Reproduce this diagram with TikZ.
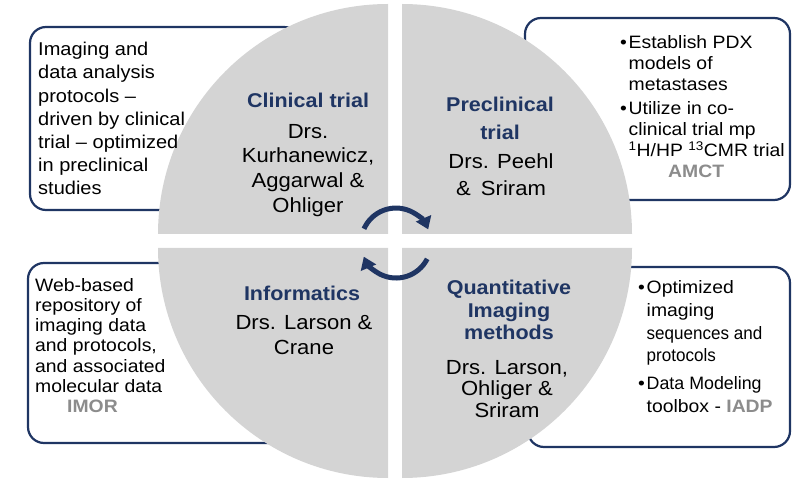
\documentclass[tikz,border=0pt]{standalone}
\usepackage{fontspec}
\setmainfont{Liberation Sans}[FakeStretch=1.08]
\usepackage{graphicx}
\usetikzlibrary{arrows.meta}
\definecolor{navy}{HTML}{1F3563}
\definecolor{quadgray}{HTML}{D4D4D4}
\definecolor{labgray}{HTML}{8C8C8C}
\newcommand\mybul{\makebox[8.5bp][l]{\textbullet}}
\newcommand\myind{\hspace*{8.5bp}}
\begin{document}
\begin{tikzpicture}[x=1bp,y=-1bp,
  cbox/.style={draw=navy,line width=2.2bp,rounded corners=16bp,fill=white},
  quad/.style={fill=quadgray},
  ttl/.style={anchor=north,inner sep=0,align=center,text=navy,font=\fontsize{20}{22.5}\selectfont\bfseries},
  drs/.style={anchor=north,inner sep=0,align=center,font=\fontsize{20.5}{24.7}\selectfont},
  btxt/.style={anchor=north west,inner sep=0,align=left,font=\fontsize{18}{23.3}\selectfont},
  cyc/.style={draw=navy,line width=5bp,-{Triangle[length=12bp,width=16bp]}},
]
\useasboundingbox (0,0) rectangle (800,482);
% side boxes
\draw[cbox] (30,27) rectangle (300,210);
\draw[cbox] (28,263) rectangle (300,443);
\draw[cbox] (525,18) rectangle (790,200);
\draw[cbox] (528,267) rectangle (790,447);
% quadrants
\fill[quad] (388,234) -- (158,234) arc[start angle=180,end angle=270,radius=230] -- cycle;
\fill[quad] (402,234) -- (402,4) arc[start angle=270,end angle=360,radius=230] -- cycle;
\fill[quad] (402,248) -- (632,248) arc[start angle=0,end angle=90,radius=230] -- cycle;
\fill[quad] (388,248) -- (388,478) arc[start angle=90,end angle=180,radius=230] -- cycle;
% box texts
\node[btxt,font=\fontsize{18.6}{23.3}\selectfont] (tl) at (38,42) {Imaging and\\ data analysis\\ protocols –\\ driven by clinical\\ trial – optimized\\ in preclinical\\ studies};
\node[btxt,font=\fontsize{18}{20.3}\selectfont] (bl) at (35,278) {Web-based\\ repository of\\ imaging data\\ and protocols,\\ and associated\\ molecular data\\ \hspace*{32bp}{\bfseries\color{labgray}IMOR}};
\node[btxt,font=\fontsize{18}{21}\selectfont] (tr) at (620,35) {\mybul Establish PDX\\ \myind models of\\ \myind metastases\\[4bp] \mybul Utilize in co-\\ \myind clinical trial mp\\ \myind\textsuperscript{1}H/HP \textsuperscript{13}CMR trial\\ \hspace*{48bp}{\bfseries\color{labgray}AMCT}};
\node[btxt,font=\fontsize{18}{23}\selectfont] (br) at (638,280) {\mybul Optimized\\ \myind imaging\\ \myind\scalebox{0.88}[1]{sequences and}\\ \myind\scalebox{0.88}[1]{protocols}\\[5bp] \mybul\scalebox{0.92}[1]{Data Modeling}\\ \myind toolbox - {\bfseries\color{labgray}IADP}};
% circle texts
\node[ttl] (tct) at (308,93) {Clinical trial};
\node[drs] (dct) at (308,124) {Drs.\\ Kurhanewicz,\\ Aggarwal \&\\ Ohliger};
\node[ttl,font=\fontsize{20}{28}\selectfont\bfseries] (tpt) at (500,97) {Preclinical\\ trial};
\node[drs,font=\fontsize{20.5}{27}\selectfont] (dpt) at (501,154) {Drs. Peehl\\ \&\enspace Sriram};
\node[ttl] (tin) at (302,286) {Informatics};
\node[drs,font=\fontsize{20.5}{25}\selectfont] (din) at (304,315) {Drs. Larson \&\\ Crane};
\node[ttl] (tqi) at (509,280) {Quantitative\\ Imaging\\ methods};
\node[drs,font=\fontsize{20.5}{21.5}\selectfont] (dqi) at (507,360) {Drs. Larson,\\ Ohliger \&\\ Sriram};
% cycle arrows
\coordinate (a1s) at (364,228.8);
\draw[cyc] (a1s) arc[start angle=204,end angle=337,radius=35];
\coordinate (a2s) at (427.2,258.9);
\draw[cyc] (a2s) arc[start angle=27,end angle=157,radius=35];
\end{tikzpicture}
\end{document}
